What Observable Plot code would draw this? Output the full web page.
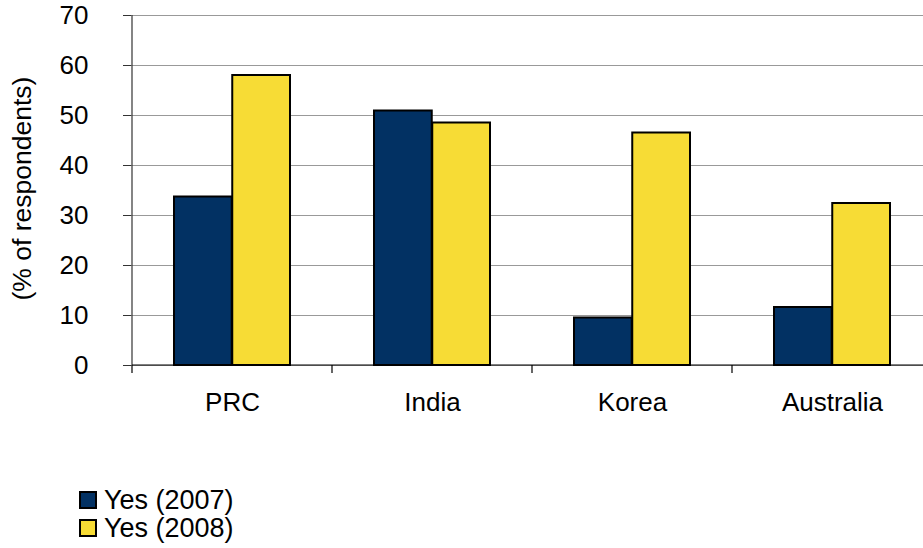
<!DOCTYPE html>
<html>
<head>
<meta charset="utf-8">
<script src="https://cdn.jsdelivr.net/npm/d3@7"></script>
<script src="https://cdn.jsdelivr.net/npm/@observablehq/plot@0.6"></script>
<style>
  body { margin: 0; background: #fff; font-family: "Liberation Sans", Arial, sans-serif; }
  #chart { width: 923px; height: 548px; overflow: hidden; position: relative; }
  .legend { padding-top: 16px; margin-left: 79px; }
  .row { display: flex; align-items: center; height: 28px; font-size: 27px; color: #000; }
  .sw { width: 14px; height: 14px; border: 2px solid #000; margin-right: 7px; box-sizing: content-box; }
</style>
</head>
<body>
<div id="chart"></div>
<script>
const countries = ["PRC", "India", "Korea", "Australia"];
const series = ["Yes (2007)", "Yes (2008)"];
const yes2007 = [33.7, 50.9, 9.5, 11.6];
const yes2008 = [58.0, 48.5, 46.5, 32.4];
const colors = ["#023163", "#F7DC35"];
const yTicks = [0, 10, 20, 30, 40, 50, 60, 70];
const yLabel = "(% of respondents)";

const d07 = countries.map((c, i) => ({country: c, series: series[0], value: yes2007[i]}));
const d08 = countries.map((c, i) => ({country: c, series: series[1], value: yes2008[i]}));

const axisLines = (index, scales, values, dimensions) => {
  const x = scales.x, y = scales.y;
  const bw = x.bandwidth();
  const g = d3.create("svg:g").attr("stroke", "#000").attr("stroke-width", 1.2);
  const x0 = x(countries[0]);
  const xEnd = x(countries[countries.length - 1]) + bw;
  g.append("line").attr("x1", x0).attr("x2", x0).attr("y1", y(70)).attr("y2", y(0)).attr("stroke", "#333");
  g.append("line").attr("x1", x0).attr("x2", xEnd).attr("y1", y(0)).attr("y2", y(0));
  const edges = countries.map(c => x(c)).concat([xEnd]);
  for (const e of edges) {
    g.append("line").attr("x1", e).attr("x2", e).attr("y1", y(0)).attr("y2", y(0) + 8);
  }
  return g.node();
};

const chart = Plot.plot({
  width: 923,
  height: 470,
  marginLeft: 131,
  marginRight: -10,
  marginTop: 15,
  marginBottom: 105,
  style: {fontFamily: "Liberation Sans, Arial, sans-serif", fontSize: "26px", color: "#000", background: "#fff"},
  x: {domain: countries, padding: 0},
  y: {domain: [0, 70]},
  marks: [
    Plot.gridY(yTicks, {stroke: "#999", strokeOpacity: 1, strokeWidth: 1.2}),
    Plot.barY(d07, {x: "country", y: "value", fill: colors[0], stroke: "#000", strokeWidth: 2, insetLeft: 42, insetRight: 100.25}),
    Plot.barY(d08, {x: "country", y: "value", fill: colors[1], stroke: "#000", strokeWidth: 2, insetLeft: 100.25, insetRight: 42}),
    Plot.axisY(yTicks, {tickSize: 8, tickPadding: 35, fontSize: 26, label: null, stroke: "#333"}),
    Plot.axisX({tickSize: 0, tickPadding: 27, fontSize: 26, label: null}),
    Plot.text([yLabel], {frameAnchor: "left", textAnchor: "middle", lineAnchor: "middle", rotate: -90, dx: -109, dy: -2, fontSize: 26.5, fill: "#000"}),
    axisLines
  ]
});

const root = document.getElementById("chart");
root.appendChild(chart);
const legend = document.createElement("div");
legend.className = "legend";
series.forEach((s, i) => {
  const row = document.createElement("div");
  row.className = "row";
  const sw = document.createElement("span");
  sw.className = "sw";
  sw.style.background = colors[i];
  const t = document.createElement("span");
  t.textContent = s;
  row.appendChild(sw);
  row.appendChild(t);
  legend.appendChild(row);
});
root.appendChild(legend);
</script>
</body>
</html>
